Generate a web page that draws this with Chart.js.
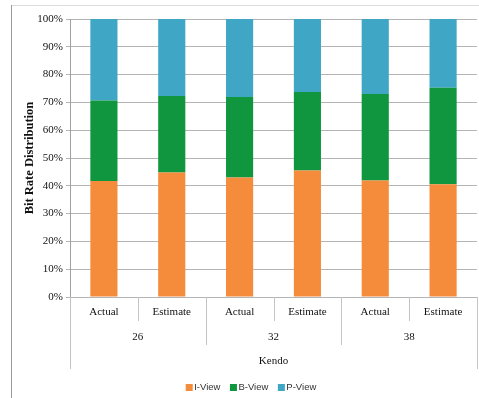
<!DOCTYPE html>
<html lang="en">
<head>
  <meta charset="UTF-8">
  <title>Bit Rate Distribution</title>
  <script src="https://cdn.jsdelivr.net/npm/chart.js"></script>
  <style>
    html, body { margin: 0; padding: 0; background: #fff; }
    #chart { display: block; }
  </style>
</head>
<body>
  <canvas id="chart" width="479" height="398"></canvas>
  <script>
    // categories (row 1), groups (row 2), top group (row 3)
    const categories = ['Actual', 'Estimate', 'Actual', 'Estimate', 'Actual', 'Estimate'];
    const groups = ['26', '32', '38'];
    const topGroup = 'Kendo';

    // percentages per view
    const iView = [41.7, 44.8, 43.0, 45.5, 41.9, 40.6];
    const bView = [29.0, 27.5, 28.9, 28.2, 31.1, 34.7];
    const pView = [29.3, 27.7, 28.1, 26.3, 27.0, 24.7];

    const seriesNames = ['I-View', 'B-View', 'P-View'];
    const seriesColors = ['#f58c3c', '#10963f', '#40a6c6'];

    const serif = "'Liberation Serif', 'Times New Roman', serif";
    const sans = "'Liberation Sans', Arial, sans-serif";

    // frame, extra category rows and legend
    const extras = {
      id: 'extras',
      beforeDraw(chart) {
        const ctx = chart.ctx;
        ctx.save();
        ctx.lineWidth = 1;
        ctx.strokeStyle = '#dcdcdc';
        ctx.beginPath();
        ctx.moveTo(11, 5.5);
        ctx.lineTo(479, 5.5);
        ctx.stroke();
        ctx.strokeStyle = '#9a9a9a';
        ctx.beginPath();
        ctx.moveTo(11.5, 5);
        ctx.lineTo(11.5, 398);
        ctx.stroke();
        ctx.restore();
      },
      afterDraw(chart) {
        const ctx = chart.ctx;
        const x = chart.scales.x;
        const area = chart.chartArea;
        const n = categories.length;
        const step = (area.right - area.left) / n;
        const base = area.bottom;
        ctx.save();
        ctx.strokeStyle = '#c4c4c4';
        ctx.lineWidth = 1;
        for (let i = 0; i <= n; i++) {
          const px = Math.round(x.getPixelForValue(Math.min(i, n - 1)) + (i === n ? step / 2 : -step / 2)) + 0.5;
          let len = 24;
          if (i === 0 || i === n) len = 72;
          else if (i % 2 === 0) len = 48;
          ctx.beginPath();
          ctx.moveTo(px, base);
          ctx.lineTo(px, base + len);
          ctx.stroke();
        }
        ctx.fillStyle = '#111';
        ctx.font = '11px ' + serif;
        ctx.textAlign = 'center';
        ctx.textBaseline = 'middle';
        groups.forEach((g, gi) => {
          const cx = (x.getPixelForValue(gi * 2) + x.getPixelForValue(gi * 2 + 1)) / 2;
          ctx.fillText(g, cx, 337);
        });
        ctx.fillText(topGroup, (area.left + area.right) / 2, 361);

        // legend
        ctx.font = '9.5px ' + sans;
        ctx.textAlign = 'left';
        const widths = seriesNames.map(s => ctx.measureText(s).width);
        const box = 7, gap = 1.5, sep = 9.5;
        const total = widths.reduce((a, w) => a + box + gap + w, 0) + sep * (seriesNames.length - 1);
        let lx = 251 - total / 2;
        const ly = 387.5;
        seriesNames.forEach((s, i) => {
          ctx.fillStyle = seriesColors[i];
          ctx.fillRect(lx, ly - box / 2, box, box);
          ctx.fillStyle = '#333';
          ctx.fillText(s, lx + box + gap, ly);
          lx += box + gap + widths[i] + sep;
        });
        ctx.restore();
      }
    };

    new Chart(document.getElementById('chart'), {
      type: 'bar',
      data: {
        labels: categories,
        datasets: [
          { label: seriesNames[0], data: iView, backgroundColor: seriesColors[0] },
          { label: seriesNames[1], data: bView, backgroundColor: seriesColors[1] },
          { label: seriesNames[2], data: pView, backgroundColor: seriesColors[2] }
        ]
      },
      options: {
        responsive: false,
        animation: false,
        devicePixelRatio: 1,
        layout: { padding: { left: 0, right: 2, top: 19, bottom: 29 } },
        datasets: { bar: { categoryPercentage: 1, barPercentage: 0.4 } },
        plugins: {
          legend: { display: false },
          tooltip: { enabled: false }
        },
        scales: {
          x: {
            stacked: true,
            grid: { display: false, drawTicks: false },
            border: { display: false },
            ticks: { color: '#111', font: { family: serif, size: 11 }, padding: 9, maxRotation: 0 },
            afterFit(scale) { scale.height = 72; }
          },
          y: {
            stacked: true,
            min: 0,
            max: 100,
            grid: { color: '#b4b4b4', tickLength: 4 },
            border: { color: '#a0a0a0' },
            ticks: {
              stepSize: 10,
              padding: 3,
              color: '#111',
              font: { family: serif, size: 11 },
              callback: v => v + '%'
            },
            title: {
              display: true,
              text: 'Bit Rate Distribution',
              color: '#111',
              font: { family: serif, size: 12.5, weight: 'bold' },
              padding: { top: 22, bottom: 0 }
            },
            afterFit(scale) { scale.width = 70; }
          }
        }
      },
      plugins: [extras]
    });
  </script>
</body>
</html>
